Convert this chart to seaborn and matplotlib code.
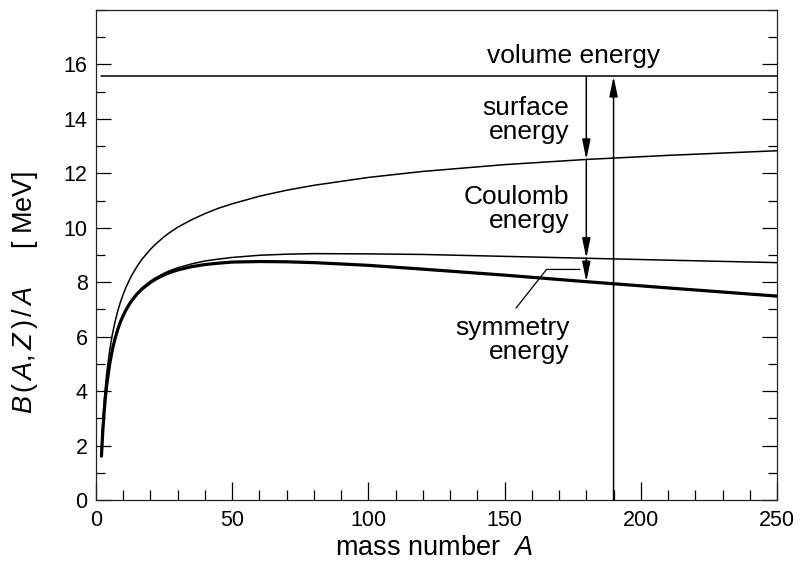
import matplotlib
matplotlib.use("Agg")
import matplotlib.pyplot as plt
from matplotlib.ticker import MultipleLocator
import seaborn as sns
import pandas as pd

# ---------------- data ----------------
mass_A = [2, 2.5, 3, 3.5, 4, 5, 6, 7, 8, 9, 10, 11, 12, 13, 15, 17, 20, 22,
          25, 27, 30, 35, 40, 45, 50, 60, 70, 80, 100, 120, 150, 180, 210, 250]
surface_curve = [1.88, 2.87, 3.61, 4.21, 4.71, 5.48, 6.08, 6.55, 6.95, 7.28,
                 7.56, 7.81, 8.03, 8.23, 8.57, 8.86, 9.21, 9.41, 9.67, 9.82,
                 10.02, 10.29, 10.52, 10.72, 10.88, 11.16, 11.38, 11.56, 11.85,
                 12.07, 12.32, 12.51, 12.66, 12.83]
coulomb_curve = [1.61, 2.55, 3.26, 3.82, 4.28, 4.99, 5.52, 5.94, 6.28, 6.56,
                 6.79, 7.00, 7.17, 7.33, 7.59, 7.80, 8.04, 8.17, 8.33, 8.42,
                 8.53, 8.67, 8.78, 8.85, 8.91, 8.99, 9.03, 9.05, 9.04, 9.02,
                 8.95, 8.88, 8.81, 8.72]
symmetry_curve = [1.61, 2.55, 3.25, 3.82, 4.27, 4.98, 5.52, 5.93, 6.27, 6.55,
                  6.78, 6.98, 7.15, 7.31, 7.56, 7.76, 7.99, 8.12, 8.27, 8.35,
                  8.45, 8.57, 8.65, 8.70, 8.74, 8.76, 8.75, 8.72, 8.62, 8.48,
                  8.26, 8.02, 7.79, 7.49]
volume_A = [2, 250]
volume_level = [15.56, 15.56]

arrow_down_A = 180
arrow_down_levels = [15.56, 12.51, 8.88, 8.02]
arrow_up_A = 190
arrow_up_levels = [0.0, 15.56]

leader_x = [154.2, 165.4, 177.7]
leader_y = [7.05, 8.47, 8.47]

x_ticks = [0, 50, 100, 150, 200, 250]
y_ticks = [0, 2, 4, 6, 8, 10, 12, 14, 16]

# ---------------- style ----------------
sns.set_style("ticks")
plt.rcParams["font.family"] = ["Liberation Sans", "DejaVu Sans"]
plt.rcParams["mathtext.fontset"] = "custom"
plt.rcParams["mathtext.rm"] = "Liberation Sans"
plt.rcParams["mathtext.it"] = "Liberation Sans:italic"
plt.rcParams["text.color"] = "black"
plt.rcParams["axes.labelcolor"] = "black"
plt.rcParams["xtick.color"] = "black"
plt.rcParams["ytick.color"] = "black"

fig, ax = plt.subplots(figsize=(8, 5.69), dpi=100)
fig.subplots_adjust(left=0.12, right=0.97125, bottom=0.1213, top=0.9824)

thin = 1.1
thick = 2.3

df_vol = pd.DataFrame({"A": volume_A, "B": volume_level})
df_surf = pd.DataFrame({"A": mass_A, "B": surface_curve})
df_coul = pd.DataFrame({"A": mass_A, "B": coulomb_curve})
df_sym = pd.DataFrame({"A": mass_A, "B": symmetry_curve})

for d, lw in [(df_vol, thin), (df_surf, thin), (df_coul, thin), (df_sym, thick)]:
    sns.lineplot(data=d, x="A", y="B", ax=ax, color="black", lw=lw,
                 estimator=None, sort=False)

# arrows
astyle = "-|>,head_length=1.2,head_width=0.25"
for y0, y1 in zip(arrow_down_levels[:-1], arrow_down_levels[1:]):
    ax.annotate("", xy=(arrow_down_A, y1), xytext=(arrow_down_A, y0),
                arrowprops=dict(arrowstyle=astyle, lw=thin, color="black",
                                shrinkA=0, shrinkB=0, mutation_scale=10))
ax.annotate("", xy=(arrow_up_A, arrow_up_levels[1]),
            xytext=(arrow_up_A, arrow_up_levels[0]),
            arrowprops=dict(arrowstyle=astyle, lw=thin, color="black",
                            shrinkA=0, shrinkB=0, mutation_scale=10))

ax.plot(leader_x, leader_y, color="black", lw=0.9)

# annotations
fs = 19
ax.text(143.5, 16.04, "volume energy", fontsize=fs, ha="left", va="baseline")
for txt, y in [("surface", 14.15), ("energy", 13.27), ("Coulomb", 10.88),
               ("energy", 10.00), ("symmetry", 6.06), ("energy", 5.17)]:
    ax.text(173.8, y, txt, fontsize=fs, ha="right", va="baseline")

# axes
ax.set_xlim(0, 250)
ax.set_ylim(0, 18)
ax.set_xticks(x_ticks)
ax.set_yticks(y_ticks)
ax.xaxis.set_minor_locator(MultipleLocator(10))
ax.yaxis.set_minor_locator(MultipleLocator(1))
ax.tick_params(axis="x", which="major", direction="in", length=13, width=0.9,
               top=False, labelsize=15.5, pad=7)
ax.tick_params(axis="x", which="minor", direction="in", length=7.5, width=0.9,
               top=False)
ax.tick_params(axis="y", which="major", direction="in", length=11, width=0.9,
               right=True, labelright=False, labelsize=15.5, pad=6)
ax.tick_params(axis="y", which="minor", direction="in", length=6.5, width=0.9,
               right=True)
for sp in ax.spines.values():
    sp.set_visible(True)
    sp.set_linewidth(0.9)
    sp.set_color("#222222")

ax.set_xlabel("")
ax.set_ylabel("")
fig.text(434 / 800, 1 - 548 / 569, "mass number  $A$", fontsize=19.5,
         ha="center", va="center")
fig.text(25 / 800, 1 - 292 / 569, r"$B\,(\,A,Z\,)\,/\,A$" + "     [ MeV]",
         fontsize=19.5, rotation=90, ha="center", va="center")

fig.savefig("out.png", dpi=100)
